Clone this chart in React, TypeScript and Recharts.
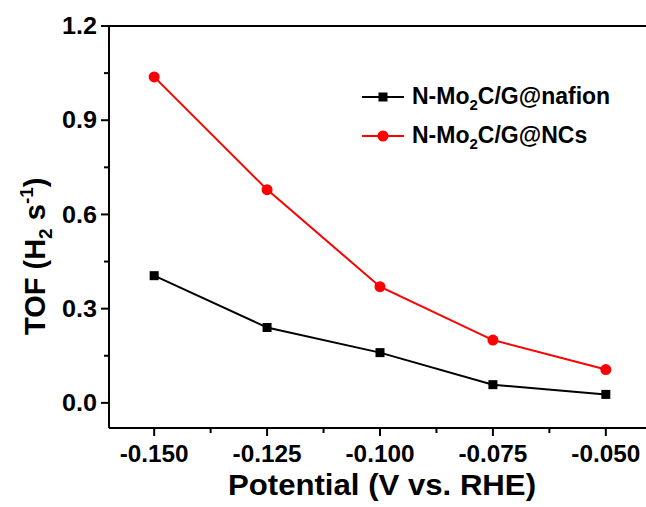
import React from 'react';
import { LineChart, Line, XAxis, YAxis, ReferenceLine, Label } from 'recharts';

// potentials (V vs. RHE)
const potentials = [-0.15, -0.125, -0.1, -0.075, -0.05];
const nafionTof = [0.405, 0.24, 0.16, 0.058, 0.027];
const ncsTof = [1.038, 0.679, 0.37, 0.2, 0.106];

const xMajor = [-0.15, -0.125, -0.1, -0.075, -0.05];
const xMinor = [-0.1375, -0.1125, -0.0875, -0.0625];
const yMajor = [0, 0.3, 0.6, 0.9, 1.2];
const yMinor = [0.15, 0.45, 0.75, 1.05];

const FONT = '"Liberation Sans", Arial, sans-serif';

const data = potentials.map((p, i) => ({ p, nafion: nafionTof[i], ncs: ncsTof[i] }));

const isMajor = (list: number[], v: number) => list.some((m) => Math.abs(m - v) < 1e-9);

const XTick = (props: any) => {
  const { x, y, payload } = props;
  const major = isMajor(xMajor, payload.value);
  return (
    <g>
      <line x1={x} x2={x} y1={y} y2={y + (major ? 8 : 5)} stroke="#000" strokeWidth={2} />
      {major && (
        <text
          x={x}
          y={y + 34}
          textAnchor="middle"
          textLength={69}
          lengthAdjust="spacingAndGlyphs"
          fontFamily={FONT}
          fontWeight="bold"
          fontSize={23}
          fill="#000"
        >
          {payload.value.toFixed(3)}
        </text>
      )}
    </g>
  );
};

const YTick = (props: any) => {
  const { x, y, payload } = props;
  const major = isMajor(yMajor, payload.value);
  return (
    <g>
      <line x1={x - (major ? 8 : 5)} x2={x} y1={y} y2={y} stroke="#000" strokeWidth={2} />
      {major && (
        <text
          x={x - 12}
          y={y}
          dy="0.36em"
          textAnchor="end"
          textLength={35}
          lengthAdjust="spacingAndGlyphs"
          fontFamily={FONT}
          fontWeight="bold"
          fontSize={23}
          fill="#000"
        >
          {payload.value.toFixed(1)}
        </text>
      )}
    </g>
  );
};

const SquareDot = (props: any) => {
  const { cx, cy, index } = props;
  return <rect key={`sq-${index}`} x={cx - 4.5} y={cy - 4.5} width={9} height={9} fill="#000" />;
};

const CircleDot = (props: any) => {
  const { cx, cy, index } = props;
  return <circle key={`ci-${index}`} cx={cx} cy={cy} r={5.5} fill="#ff0000" />;
};

const LegendBox = () => {
  const rows = [
    { color: '#000', tail: 'nafion', square: true },
    { color: '#ff0000', tail: 'NCs', square: false },
  ];
  return (
    <div style={{ fontFamily: FONT, fontWeight: 'bold', fontSize: 23, color: '#000' }}>
      {rows.map((r) => (
        <div key={r.tail} style={{ display: 'flex', alignItems: 'center', height: 39 }}>
          <svg width={50} height={20}>
            <line x1={0} x2={42} y1={10} y2={10} stroke={r.color} strokeWidth={2} />
            {r.square ? (
              <rect x={16.5} y={5.5} width={9} height={9} fill={r.color} />
            ) : (
              <circle cx={21} cy={10} r={5.5} fill={r.color} />
            )}
          </svg>
          <span style={{ whiteSpace: 'nowrap' }}>
            N-Mo<sub style={{ fontSize: 15, verticalAlign: -6, lineHeight: 0 }}>2</sub>C/G@{r.tail}
          </span>
        </div>
      ))}
    </div>
  );
};

export default function App() {
  return (
    <div style={{ position: 'absolute', left: 0, top: 0, width: 646, height: 507, overflow: 'hidden', background: '#fff' }}>
      <LineChart width={660} height={507} data={data} margin={{ top: 26, right: 9, bottom: 0, left: 0 }}>
        <XAxis
          dataKey="p"
          type="number"
          domain={[-0.16, -0.04]}
          ticks={[...xMajor, ...xMinor].sort((a, b) => a - b)}
          tick={<XTick />}
          tickLine={false}
          tickSize={0}
          tickMargin={0}
          interval={0}
          height={79}
          axisLine={{ stroke: '#000', strokeWidth: 2 }}
          allowDataOverflow
        >
          <Label
            content={() => (
              <text
                x={382}
                y={495}
                textAnchor="middle"
                textLength={308}
                lengthAdjust="spacingAndGlyphs"
                fontFamily={FONT}
                fontWeight="bold"
                fontSize={29}
                fill="#000"
              >
                Potential (V vs. RHE)
              </text>
            )}
          />
        </XAxis>
        <YAxis
          type="number"
          domain={[-0.08, 1.2]}
          ticks={[...yMajor, ...yMinor].sort((a, b) => a - b)}
          tick={<YTick />}
          tickLine={false}
          tickSize={0}
          tickMargin={0}
          interval={0}
          width={109}
          axisLine={{ stroke: '#000', strokeWidth: 2 }}
          allowDataOverflow
        >
          <Label
            content={() => (
              <text
                x={45}
                y={335}
                transform="rotate(-90 45 335)"
                textAnchor="start"
                fontFamily={FONT}
                fontWeight="bold"
                fontSize={29}
                fill="#000"
              >
                TOF (H<tspan fontSize={19} dy={7}>2</tspan>
                <tspan dy={-7}> s</tspan>
                <tspan fontSize={19} dy={-12}>-1</tspan>
                <tspan dy={12}>)</tspan>
              </text>
            )}
          />
        </YAxis>
        <ReferenceLine y={1.2} stroke="#000" strokeWidth={2} />
        <Line dataKey="nafion" stroke="#000" strokeWidth={2} dot={SquareDot} isAnimationActive={false} />
        <Line dataKey="ncs" stroke="#ff0000" strokeWidth={2} dot={CircleDot} isAnimationActive={false} />
      </LineChart>
      <div style={{ position: 'absolute', left: 362, top: 77 }}>
        <LegendBox />
      </div>
    </div>
  );
}
